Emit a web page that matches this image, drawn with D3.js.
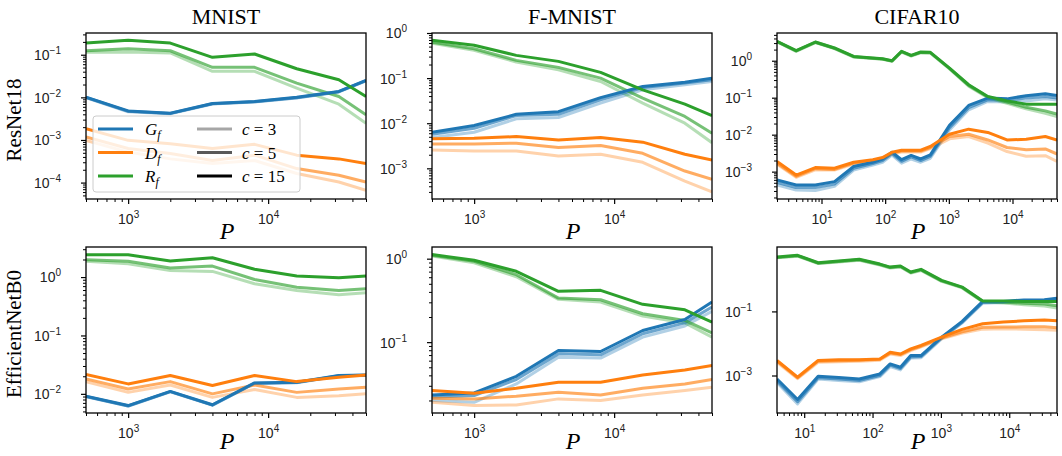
<!DOCTYPE html>
<html>
<head>
<meta charset="utf-8">
<script src="https://cdn.jsdelivr.net/npm/d3@7"></script>
<style>
  body { margin: 0; background: #fff; }
  svg { display: block; font-family: "Liberation Serif", "DejaVu Serif", serif; }
</style>
</head>
<body>
<svg id="chart" width="1062" height="456"></svg>
<script>
// ---- data: P values (training set size) ----
const P_MNIST = [500, 1000, 2000, 4000, 8000, 16000, 32000, 50000]
const P_CIFAR_RES = [2, 4, 8, 16, 32, 64, 91, 128, 181, 256, 362, 512, 1024, 2048, 4096, 8192, 16384, 32768, 50000]
const P_CIFAR_EFF = [4, 8, 16, 32, 64, 128, 181, 256, 362, 512, 1024, 2048, 4096, 8192, 16384, 32768, 50000]

// each series: [c=3, c=5, c=15]
// ResNet18 / MNIST
const resMnistG = [
  [0.0098, 0.0046, 0.0041, 0.0070, 0.0078, 0.0097, 0.0134, 0.0245],
  [0.0099, 0.0047, 0.0042, 0.0071, 0.0079, 0.0098, 0.0136, 0.0248],
  [0.0101, 0.0048, 0.00425, 0.0072, 0.0080, 0.0100, 0.0138, 0.025]]
const resMnistD = [
  [0.00098, 0.00052, 0.00036, 0.00028, 0.00033, 0.000163, 0.000103, 0.000066],
  [0.00118, 0.00063, 0.00048, 0.00033, 0.00044, 0.000213, 0.000149, 0.000103],
  [0.00185, 0.00098, 0.00082, 0.00063, 0.00079, 0.00044, 0.00036, 0.00028]]
const resMnistR = [
  [0.114, 0.116, 0.110, 0.0407, 0.0407, 0.0164, 0.0069, 0.00247],
  [0.124, 0.138, 0.124, 0.0506, 0.0506, 0.0216, 0.0105, 0.0039],
  [0.188, 0.218, 0.188, 0.087, 0.104, 0.047, 0.0258, 0.0105]]

// ResNet18 / F-MNIST
const resFmnistG = [
  [0.0048, 0.0063, 0.0125, 0.0134, 0.0278, 0.055, 0.071, 0.084],
  [0.0057, 0.0077, 0.0148, 0.0158, 0.033, 0.062, 0.078, 0.092],
  [0.0063, 0.0089, 0.0158, 0.018, 0.037, 0.065, 0.081, 0.1]]
const resFmnistD = [
  [0.00255, 0.00243, 0.00243, 0.00188, 0.00205, 0.00136, 0.00052, 0.0003],
  [0.00347, 0.00347, 0.0036, 0.0029, 0.0032, 0.00215, 0.00087, 0.00057],
  [0.0045, 0.00465, 0.00506, 0.00426, 0.0048, 0.0038, 0.00205, 0.00153]]
const resFmnistR = [
  [0.59, 0.412, 0.227, 0.153, 0.084, 0.0278, 0.01, 0.0037],
  [0.621, 0.449, 0.247, 0.173, 0.1, 0.036, 0.0141, 0.006],
  [0.687, 0.533, 0.319, 0.235, 0.134, 0.055, 0.0264, 0.0148]]

// ResNet18 / CIFAR10
const resCifarG = [
  [0.00044, 0.00032, 0.00031, 0.0004, 0.0011, 0.0015, 0.0018, 0.0028, 0.0017, 0.0022, 0.0018, 0.0023, 0.0135, 0.047, 0.079, 0.076, 0.082, 0.093, 0.087],
  [0.00051, 0.00037, 0.00037, 0.00046, 0.00123, 0.00165, 0.002, 0.0031, 0.0019, 0.0025, 0.002, 0.0026, 0.0155, 0.054, 0.088, 0.085, 0.098, 0.107, 0.098],
  [0.000596, 0.000437, 0.000437, 0.000537, 0.00138, 0.0018, 0.0022, 0.00336, 0.0021, 0.00275, 0.0022, 0.00284, 0.0178, 0.0617, 0.0977, 0.093, 0.113, 0.128, 0.115]]
const resCifarD = [
  [0.0016, 0.0007, 0.00112, 0.0011, 0.0016, 0.0019, 0.0022, 0.003, 0.0034, 0.0034, 0.0034, 0.0042, 0.0077, 0.0089, 0.0059, 0.0035, 0.0026, 0.0027, 0.0019],
  [0.0017, 0.00075, 0.0012, 0.00115, 0.0017, 0.002, 0.0023, 0.0032, 0.0036, 0.0036, 0.0036, 0.0045, 0.0089, 0.0103, 0.0072, 0.0045, 0.0039, 0.0041, 0.003],
  [0.00188, 0.00081, 0.00129, 0.00124, 0.0018, 0.0021, 0.0024, 0.00336, 0.0038, 0.0038, 0.0038, 0.0048, 0.0103, 0.0141, 0.0115, 0.0072, 0.0075, 0.0089, 0.0072]]
const resCifarR = [
  [3.22, 1.8, 3.08, 2.12, 1.26, 1.14, 1.09, 0.96, 1.72, 1.34, 1.64, 1.61, 0.6, 0.205, 0.100, 0.07, 0.05, 0.038, 0.031],
  [3.3, 1.84, 3.15, 2.17, 1.29, 1.16, 1.11, 0.98, 1.76, 1.37, 1.68, 1.65, 0.62, 0.215, 0.105, 0.076, 0.055, 0.044, 0.036],
  [3.36, 1.87, 3.21, 2.21, 1.31, 1.18, 1.13, 1.0, 1.8, 1.4, 1.72, 1.69, 0.634, 0.224, 0.108, 0.082, 0.067, 0.067, 0.066]]

// EfficientNetB0 / MNIST
const effMnistG = [
  [0.0089, 0.0062, 0.0108, 0.0064, 0.0151, 0.0155, 0.0202, 0.0207],
  [0.0090, 0.0062, 0.0109, 0.0064, 0.0152, 0.0156, 0.0204, 0.0209],
  [0.0091, 0.0063, 0.011, 0.0065, 0.0154, 0.0158, 0.0206, 0.0211]]
const effMnistD = [
  [0.0162, 0.0106, 0.0142, 0.0087, 0.0119, 0.0087, 0.0093, 0.01],
  [0.018, 0.0121, 0.0162, 0.01, 0.0142, 0.0106, 0.0121, 0.013],
  [0.0214, 0.0148, 0.0206, 0.0139, 0.0206, 0.0162, 0.0193, 0.0211]]
const effMnistR = [
  [1.86, 1.69, 1.30, 1.25, 0.77, 0.59, 0.50, 0.54],
  [1.98, 1.86, 1.43, 1.54, 0.91, 0.67, 0.59, 0.63],
  [2.41, 2.41, 1.88, 2.14, 1.36, 1.04, 0.97, 1.04]]

// EfficientNetB0 / F-MNIST
const effFmnistG = [
  [0.02, 0.019, 0.0316, 0.066, 0.0644, 0.115, 0.156, 0.234],
  [0.0219, 0.0229, 0.0356, 0.0724, 0.0704, 0.126, 0.17, 0.263],
  [0.0233, 0.0246, 0.039, 0.0795, 0.0773, 0.138, 0.187, 0.302]]
const effFmnistD = [
  [0.019, 0.0174, 0.0177, 0.0209, 0.02, 0.0233, 0.0263, 0.0289],
  [0.0213, 0.0209, 0.0225, 0.0251, 0.0233, 0.028, 0.0316, 0.0356],
  [0.0263, 0.0244, 0.028, 0.0331, 0.0331, 0.0405, 0.0465, 0.0525]]
const effFmnistR = [
  [1.08, 0.895, 0.608, 0.326, 0.302, 0.205, 0.17, 0.115],
  [1.1, 0.93, 0.643, 0.337, 0.322, 0.219, 0.182, 0.129],
  [1.12, 0.957, 0.706, 0.406, 0.418, 0.284, 0.244, 0.174]]

// EfficientNetB0 / CIFAR10
const effCifarG = [
  [0.0006, 0.00013, 0.00078, 0.0007, 0.00064, 0.00092, 0.0019, 0.0015, 0.0035, 0.0036, 0.014, 0.044, 0.18, 0.19, 0.21, 0.215, 0.23],
  [0.00068, 0.000152, 0.00085, 0.00078, 0.0007, 0.001, 0.0021, 0.00165, 0.0038, 0.0039, 0.0148, 0.046, 0.19, 0.198, 0.22, 0.222, 0.245],
  [0.00078, 0.000178, 0.00095, 0.00087, 0.00078, 0.00112, 0.0023, 0.00181, 0.0042, 0.0042, 0.0158, 0.049, 0.205, 0.205, 0.229, 0.23, 0.26]]
const effCifarD = [
  [0.0026, 0.0008, 0.0026, 0.0027, 0.0028, 0.003, 0.0047, 0.0042, 0.006, 0.0078, 0.014, 0.021, 0.028, 0.029, 0.028, 0.027, 0.0256],
  [0.0028, 0.00085, 0.0028, 0.0029, 0.003, 0.0032, 0.005, 0.0045, 0.0064, 0.0082, 0.0148, 0.023, 0.032, 0.0325, 0.033, 0.033, 0.031],
  [0.00295, 0.00089, 0.00295, 0.0031, 0.0031, 0.0033, 0.0053, 0.0047, 0.0068, 0.0087, 0.0158, 0.0275, 0.041, 0.0467, 0.051, 0.0537, 0.051]]
const effCifarR = [
  [4.7, 5.3, 3.1, 3.5, 3.95, 2.8, 2.27, 2.44, 1.58, 1.9, 0.87, 0.54, 0.2, 0.182, 0.162, 0.147, 0.127],
  [4.85, 5.45, 3.2, 3.62, 4.1, 2.9, 2.35, 2.52, 1.64, 1.98, 0.9, 0.56, 0.205, 0.195, 0.18, 0.17, 0.15],
  [4.98, 5.62, 3.3, 3.73, 4.22, 3.0, 2.42, 2.6, 1.69, 2.05, 0.93, 0.575, 0.21, 0.21, 0.205, 0.205, 0.205]]

const datasets = ['MNIST', 'F-MNIST', 'CIFAR10']
const models = ['ResNet18', 'EfficientNetB0']
const cValues = [3, 5, 15]

// ---- layout / style ----
const COLORS = { G: '#1f77b4', D: '#ff7f0e', R: '#2ca02c' }
const ALPHAS = [0.35, 0.65, 1]
const PANEL_X = [86, 432, 777]
const PANEL_Y = [33, 247]
const P_LABEL_Y = [239, 449]
const W = 280, H = 166

const panels = [
  { row: 0, col: 0, P: P_MNIST, G: resMnistG, D: resMnistD, R: resMnistR, yExp: [-4.385, -0.49], yMajor: [-4, -3, -2, -1], minorY: true },
  { row: 0, col: 1, P: P_MNIST, G: resFmnistG, D: resFmnistD, R: resFmnistR, yExp: [-3.68, 0], yMajor: [-3, -2, -1, 0], minorY: true },
  { row: 0, col: 2, P: P_CIFAR_RES, G: resCifarG, D: resCifarD, R: resCifarR, yExp: [-3.74, 0.75], yMajor: [-3, -2, -1, 0], minorY: true },
  { row: 1, col: 0, P: P_MNIST, G: effMnistG, D: effMnistD, R: effMnistR, yExp: [-2.328, 0.515], yMajor: [-2, -1, 0], minorY: true },
  { row: 1, col: 1, P: P_MNIST, G: effFmnistG, D: effFmnistD, R: effFmnistR, yExp: [-1.849, 0.14], yMajor: [-1, 0], minorY: true },
  { row: 1, col: 2, P: P_CIFAR_EFF, G: effCifarG, D: effCifarD, R: effCifarR, yExp: [-4.17, 1.01], yMajor: [-3, -1], minorY: false },
]

const svg = d3.select('#chart')
const defs = svg.append('defs')

function supLabel(sel, exp) {
  sel.text(null)
  sel.append('tspan').text('10')
  sel.append('tspan').attr('dy', -6).attr('font-size', 10)
    .text(exp < 0 ? '\u2212' + (-exp) : String(exp))
}

function minorTicks(dom) {
  const out = []
  const lo = Math.floor(Math.log10(dom[0])), hi = Math.ceil(Math.log10(dom[1]))
  for (let e = lo; e <= hi; e++) {
    for (let m = 2; m <= 9; m++) {
      const v = m * Math.pow(10, e)
      if (v >= dom[0] * 0.999 && v <= dom[1] * 1.001) out.push(v)
    }
  }
  return out
}

panels.forEach((p, pi) => {
  const x0 = PANEL_X[p.col], y0 = PANEL_Y[p.row]
  const xDom = [p.P[0], p.P[p.P.length - 1]]
  const yDom = p.yExp.map(e => Math.pow(10, e))
  const x = d3.scaleLog().domain(xDom).range([x0, x0 + W])
  const y = d3.scaleLog().domain(yDom).range([y0 + H, y0])

  const g = svg.append('g')

  defs.append('clipPath').attr('id', 'clip' + pi)
    .append('rect').attr('x', x0).attr('y', y0).attr('width', W).attr('height', H)

  const lines = g.append('g').attr('clip-path', `url(#clip${pi})`)
  const line = d3.line().x((d, i) => x(p.P[i])).y(d => y(d))

  cValues.forEach((c, ci) => {
    ['G', 'D', 'R'].forEach(k => {
      lines.append('path')
        .datum(p[k][ci])
        .attr('d', line)
        .attr('fill', 'none')
        .attr('stroke', COLORS[k])
        .attr('stroke-opacity', ALPHAS[ci])
        .attr('stroke-width', 3)
        .attr('stroke-linejoin', 'round')
    })
  })

  // x axis
  const xMajor = d3.range(0, 6).map(e => Math.pow(10, e)).filter(v => v >= xDom[0] && v <= xDom[1])
  g.append('g').attr('transform', `translate(0,${y0 + H})`)
    .call(d3.axisBottom(x).tickValues(minorTicks(xDom)).tickSize(3).tickFormat(''))
    .call(a => a.select('.domain').remove())
    .call(a => a.selectAll('line').attr('stroke', '#000').attr('stroke-width', 1))
  const xa = g.append('g').attr('transform', `translate(0,${y0 + H})`)
    .call(d3.axisBottom(x).tickValues(xMajor).tickSize(5).tickPadding(16))
    .call(a => a.select('.domain').remove())
    .call(a => a.selectAll('line').attr('stroke', '#000').attr('stroke-width', 1.2))
  xa.selectAll('.tick text')
    .attr('font-size', 14).attr('fill', '#222').attr('dy', '0.3em')
    .each(function (d) { supLabel(d3.select(this), Math.round(Math.log10(d))) })

  // y axis
  if (p.minorY) {
    g.append('g').attr('transform', `translate(${x0},0)`)
      .call(d3.axisLeft(y).tickValues(minorTicks(yDom)).tickSize(3).tickFormat(''))
      .call(a => a.select('.domain').remove())
      .call(a => a.selectAll('line').attr('stroke', '#000').attr('stroke-width', 1))
  }
  const ya = g.append('g').attr('transform', `translate(${x0},0)`)
    .call(d3.axisLeft(y).tickValues(p.yMajor.map(e => Math.pow(10, e))).tickSize(5).tickPadding(20))
    .call(a => a.select('.domain').remove())
    .call(a => a.selectAll('line').attr('stroke', '#000').attr('stroke-width', 1.2))
  ya.selectAll('.tick text')
    .attr('font-size', 14).attr('fill', '#222').attr('dy', '0.35em')
    .each(function (d) { supLabel(d3.select(this), Math.round(Math.log10(d))) })

  // frame
  g.append('rect').attr('x', x0).attr('y', y0).attr('width', W).attr('height', H)
    .attr('fill', 'none').attr('stroke', '#000').attr('stroke-width', 1.3)

  // P label
  g.append('text').attr('x', x0 + W / 2 + 1).attr('y', P_LABEL_Y[p.row])
    .attr('text-anchor', 'middle').attr('font-size', 24).attr('font-style', 'italic')
    .text('P')

  if (p.row === 0) {
    g.append('text').attr('x', x0 + W / 2).attr('y', 24)
      .attr('text-anchor', 'middle').attr('font-size', 22).text(datasets[p.col])
  }
  if (p.col === 0) {
    g.append('text')
      .attr('transform', `translate(21,${y0 + H / 2 + 4}) rotate(-90)`)
      .attr('text-anchor', 'middle').attr('font-size', 21).text(models[p.row])
  }
})

// ---- legend (first panel) ----
const leg = svg.append('g').attr('transform', 'translate(93,116)')
leg.append('rect').attr('width', 207).attr('height', 76).attr('rx', 3)
  .attr('fill', '#fff').attr('fill-opacity', 0.8).attr('stroke', '#ccc')

const legMetric = [['G', 'G'], ['D', 'D'], ['R', 'R']]
legMetric.forEach(([k, sym], i) => {
  const yy = 13 + i * 23.5
  leg.append('line').attr('x1', 5).attr('x2', 40).attr('y1', yy).attr('y2', yy)
    .attr('stroke', COLORS[k]).attr('stroke-width', 3)
  const t = leg.append('text').attr('x', 52).attr('y', yy + 6).attr('font-size', 17)
  t.append('tspan').attr('font-style', 'italic').text(sym)
  t.append('tspan').attr('font-style', 'italic').attr('font-size', 12).attr('dy', 4).text('f')
})
cValues.forEach((c, i) => {
  const yy = 13 + i * 23.5
  leg.append('line').attr('x1', 104).attr('x2', 139).attr('y1', yy).attr('y2', yy)
    .attr('stroke', '#000').attr('stroke-opacity', ALPHAS[i]).attr('stroke-width', 3)
  const t = leg.append('text').attr('x', 149).attr('y', yy + 6).attr('font-size', 17)
  t.append('tspan').attr('font-style', 'italic').text('c')
  t.append('tspan').text(' = ' + c)
})
</script>
</body>
</html>
